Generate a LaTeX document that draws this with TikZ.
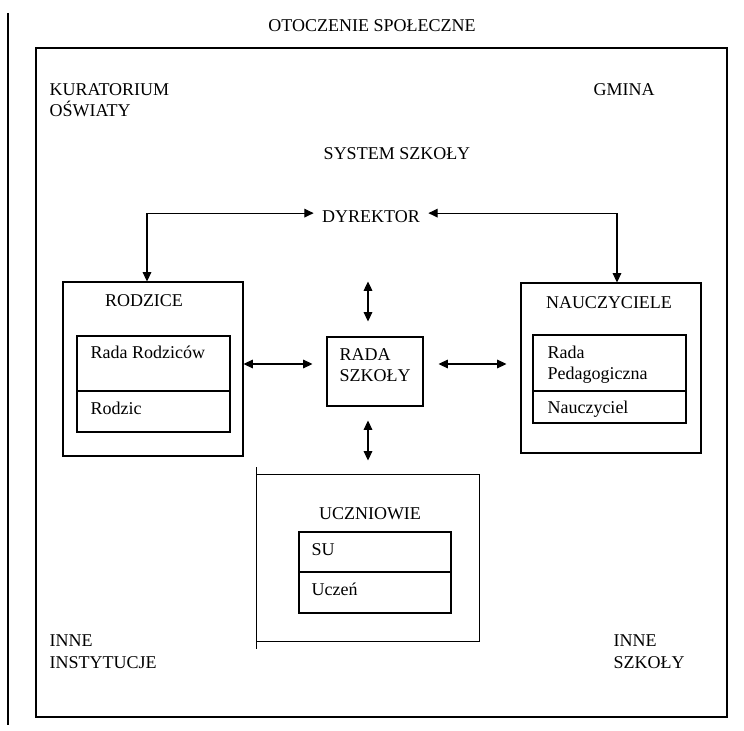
\documentclass[tikz,border=0pt]{standalone}
\usepackage{fontspec}
\setmainfont{Liberation Serif}
\usetikzlibrary{%
  arrows.meta,%
  positioning,%
  calc%
}

\tikzset{
  box/.style={draw, inner sep=0pt},
  txt/.style={inner sep=0pt, anchor=base west, align=left},
  ttl/.style={inner sep=0pt, anchor=base},
}

\begin{document}
\begin{tikzpicture}[
  x=0.75pt, y=-0.75pt,
  font=\fontsize{13.5}{16}\selectfont,
  >={Triangle[length=7pt,width=6.5pt]},
  line width=0.8pt,
]
\useasboundingbox (0,0) rectangle (744,731);

% environment
\draw (8,13) -- (8,725);
\draw (36,48) rectangle (727,717);
\node[ttl] (otocz) at (372,32) {OTOCZENIE SPOŁECZNE};
\node[txt] (kur) at (49,117) {KURATORIUM\\OŚWIATY};
\node[txt] (gmina) at (593,96) {GMINA};
\node[ttl] (sys) at (397,160) {SYSTEM SZKOŁY};
\node[txt] (inst) at (49,668) {INNE\\INSTYTUCJE};
\node[txt] (szk) at (613,668) {INNE\\SZKOŁY};

% school
\node[inner xsep=6pt, inner ysep=0pt, anchor=base] (dyr) at (371,223) {DYREKTOR};

\node[box, minimum width=135pt, minimum height=130.5pt] (rodzice) at (153,369) {};
\node[ttl] (t-rodz) at (144,307) {RODZICE};
\node[box, minimum width=114.75pt, minimum height=41.25pt] (rr) at (153.5,363.5) {};
\node[box, minimum width=114.75pt, minimum height=30.75pt] (rodzic) at (153.5,411.5) {};
\node[txt] (t-rr) at (90,359) {Rada Rodziców};
\node[txt] (t-rodzic) at (90,415) {Rodzic};

\node[box, minimum width=72pt, minimum height=51.75pt] (rada) at (375,371.5) {};
\node[txt] (t-rada) at (339,382) {RADA\\SZKOŁY};

\node[box, minimum width=135pt, minimum height=127.5pt] (nauc) at (611,368) {};
\node[ttl] (t-nauc) at (609,309) {NAUCZYCIELE};
\node[box, minimum width=114.75pt, minimum height=42pt] (rp) at (609.5,363) {};
\node[box, minimum width=114.75pt, minimum height=24pt] (nauczyciel) at (609.5,407) {};
\node[txt] (t-rp) at (547,380) {Rada\\Pedagogiczna};
\node[txt] (t-nauczyciel) at (547,414) {Nauczyciel};

\node[inner sep=0pt, minimum width=166.5pt, minimum height=124.5pt] (ucz) at (368,558) {};
\draw (ucz.north west) -- (ucz.north east) -- (ucz.south east) -- (ucz.south west);
\draw ([yshift=5.25pt]ucz.north west) -- ([yshift=-5.25pt]ucz.south west);
\node[ttl] (t-ucz) at (370,520) {UCZNIOWIE};
\node[box, minimum width=114pt, minimum height=30pt] (su) at (375,552) {};
\node[box, minimum width=114pt, minimum height=30.75pt] (uczen) at (375,592.5) {};
\node[txt] (t-su) at (311,556) {SU};
\node[txt] (t-uczen) at (311,595) {Uczeń};

% arrows
\coordinate (hub) at (368,364);
\draw[<->] ([yshift=3pt]dyr.west) -| ([xshift=-4.5pt]rodzice.north);
\draw[<->] ([yshift=3pt]dyr.east) -| ([xshift=4.5pt]nauc.north);
\draw[<->, shorten >=11.25pt] (hub |- rodzice.north) -- (hub |- rada.north);
\draw[<->, shorten <=10.5pt, shorten >=10.5pt] (hub |- rada.south) -- (hub |- ucz.north);
\draw[<->, shorten >=10.5pt] (hub -| rodzice.east) -- (hub -| rada.west);
\draw[<->, shorten <=11.25pt, shorten >=10.5pt] (hub -| rada.east) -- (hub -| nauc.west);

\end{tikzpicture}
\end{document}
